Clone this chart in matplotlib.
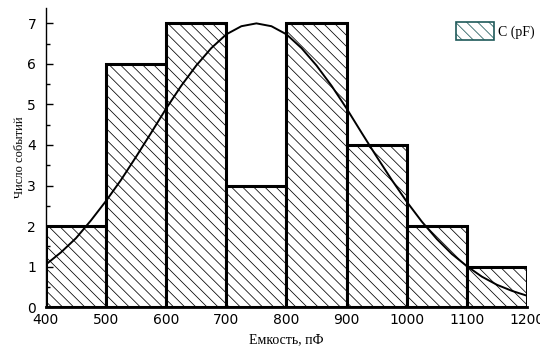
import numpy as np
import matplotlib.pyplot as plt
from matplotlib.patches import Patch

# histogram bins (pF) and counts
bin_edges = [400, 500, 600, 700, 800, 900, 1000, 1100, 1200]
counts = [2, 6, 7, 3, 7, 4, 2, 1]

# fitted curve
curve_x = [400, 425, 450, 475, 500, 525, 550, 575, 600, 625, 650, 675, 700, 725,
           750, 775, 800, 825, 850, 875, 900, 925, 950, 975, 1000, 1025, 1050,
           1075, 1100, 1125, 1150, 1175, 1200]
curve_y = [1.05, 1.35, 1.70, 2.14, 2.62, 3.14, 3.71, 4.30, 4.90, 5.46, 5.96, 6.39,
           6.73, 6.93, 7.00, 6.93, 6.73, 6.39, 5.96, 5.46, 4.90, 4.30, 3.71, 3.14,
           2.60, 2.11, 1.68, 1.31, 1.01, 0.75, 0.55, 0.40, 0.28]

xticks = [400, 500, 600, 700, 800, 900, 1000, 1100, 1200]

plt.rcParams['hatch.linewidth'] = 0.55
plt.rcParams['hatch.color'] = '#2a2a2a'

fig = plt.figure(figsize=(5.4, 3.47), dpi=100)
ax = fig.add_axes([0.085, 0.115, 0.891, 0.862])

lefts = np.array(bin_edges[:-1])
widths = np.diff(bin_edges)
ax.bar(lefts, counts, width=widths, align='edge', color='white',
       edgecolor='black', linewidth=2.2, hatch='\\\\\\')
ax.plot(curve_x, curve_y, color='black', lw=1.4)

ax.set_xlim(400, 1200)
ax.set_ylim(0, 7.38)
ax.set_xticks(xticks)
ax.set_yticks(range(8))
ax.set_yticks(np.arange(0.5, 7.5, 1.0), minor=True)
for s in ['top', 'right']:
    ax.spines[s].set_visible(False)
ax.spines['left'].set_linewidth(1.0)
ax.spines['bottom'].set_linewidth(2.0)
ax.tick_params(axis='y', direction='in', length=5, width=1, labelsize=10, pad=7)
ax.tick_params(axis='y', which='minor', direction='in', length=3, width=1)
ax.tick_params(axis='x', length=0, labelsize=10, pad=4)

ax.set_xlabel('Емкость, пФ', family='Liberation Serif', fontsize=10, labelpad=5)
ax.set_ylabel('Число событий', family='Liberation Serif', fontsize=9, labelpad=1)

handle = Patch(facecolor='white', edgecolor='#1f5a5a', hatch='\\\\\\', linewidth=1.2)
ax.legend([handle], ['C (pF)'], loc='upper right', frameon=False,
          bbox_to_anchor=(535 / 540, 1 - 22 / 347), bbox_transform=fig.transFigure,
          prop={'family': 'Liberation Serif', 'size': 10}, handlelength=2.7,
          handleheight=1.6, handletextpad=0.35, borderpad=0, borderaxespad=0)

fig.savefig('out.png', dpi=100)
